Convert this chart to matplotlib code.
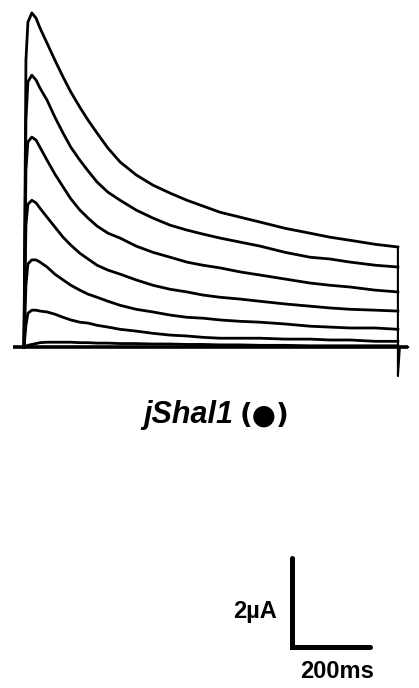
import numpy as np
import matplotlib.pyplot as plt

# sample times of the current traces (ms after step onset)
t = [0, 5, 10, 20, 31, 41, 59, 79, 100, 120, 143, 164, 187, 215, 246,
     287, 330, 374, 417, 458, 502, 553, 604, 668, 732, 783, 835, 899, 957]

# currents (uA) for each voltage step, largest first
trace1 = [0, 6.45, 7.30, 7.51, 7.39, 7.17, 6.83, 6.45, 6.07, 5.73, 5.39, 5.10, 4.81, 4.47, 4.16,
          3.87, 3.64, 3.46, 3.30, 3.17, 3.03, 2.92, 2.81, 2.67, 2.56, 2.47, 2.40, 2.31, 2.25]
trace2 = [0, 5.10, 5.96, 6.11, 6.00, 5.82, 5.55, 5.17, 4.81, 4.49, 4.20, 3.96, 3.71, 3.48, 3.30,
          3.08, 2.90, 2.74, 2.63, 2.54, 2.45, 2.36, 2.27, 2.13, 2.02, 1.98, 1.91, 1.84, 1.80]
trace3 = [0, 3.98, 4.61, 4.72, 4.65, 4.49, 4.20, 3.89, 3.60, 3.33, 3.08, 2.90, 2.72, 2.56, 2.45,
          2.27, 2.13, 2.02, 1.91, 1.84, 1.78, 1.69, 1.62, 1.53, 1.44, 1.39, 1.35, 1.28, 1.24]
trace4 = [0, 2.74, 3.21, 3.30, 3.24, 3.12, 2.92, 2.70, 2.47, 2.29, 2.11, 1.98, 1.84, 1.73, 1.64,
          1.51, 1.39, 1.30, 1.24, 1.17, 1.12, 1.08, 1.03, 0.97, 0.92, 0.88, 0.85, 0.83, 0.81]
trace5 = [0, 1.39, 1.87, 1.96, 1.96, 1.91, 1.80, 1.64, 1.51, 1.39, 1.28, 1.19, 1.12, 1.03, 0.94,
          0.85, 0.79, 0.72, 0.67, 0.65, 0.61, 0.58, 0.56, 0.52, 0.47, 0.45, 0.43, 0.43, 0.40]
trace6 = [0, 0.49, 0.76, 0.83, 0.83, 0.81, 0.79, 0.74, 0.67, 0.61, 0.56, 0.54, 0.49, 0.45, 0.40,
          0.36, 0.31, 0.27, 0.25, 0.22, 0.20, 0.20, 0.20, 0.18, 0.18, 0.16, 0.16, 0.13, 0.13]
trace7 = [0, 0.02, 0.04, 0.06, 0.08, 0.10, 0.11, 0.11, 0.11, 0.11, 0.10, 0.10, 0.09, 0.09, 0.08,
          0.08, 0.07, 0.07, 0.06, 0.06, 0.05, 0.05, 0.04, 0.04, 0.03, 0.03, 0.03, 0.03, 0.03]
traces = [trace1, trace2, trace3, trace4, trace5, trace6, trace7]

# holding baseline and tail artifact at step end
base_t = [-28, 983]
base_i = [0, 0]
tail_t = [957, 957, 962, 983]
tail_i = [2.25, -0.65, 0, 0]

# scale bar
bar_ms = 200
bar_ua = 2
bar_x0, bar_y0 = 686, -6.74

fig = plt.figure(figsize=(4.19, 6.88), dpi=100)
ax = fig.add_axes([0, 0, 1, 1])
ax.set_xlim(-61.4, 1011)
ax.set_ylim(-7.66, 7.80)
ax.axis('off')

ax.plot(base_t, base_i, color='black', lw=2.6, solid_capstyle='butt')
for tr in traces:
    ax.plot(t, tr, color='black', lw=2.0, solid_joinstyle='round')
ax.plot(tail_t, tail_i, color='black', lw=1.5)

# label under the traces
ax.text(535, -1.71, 'jShal1', fontsize=22, fontweight='bold', style='italic',
        family='Liberation Sans', ha='right', va='baseline')
ax.text(551, -1.71, '(\u25cf)', fontsize=20, fontweight='bold',
        family='DejaVu Sans', ha='left', va='baseline')

ax.plot([bar_x0, bar_x0, bar_x0 + bar_ms], [bar_y0 + bar_ua, bar_y0, bar_y0],
        color='black', lw=3.6, solid_capstyle='round', solid_joinstyle='miter')
ax.text(bar_x0 - 40, bar_y0 + bar_ua / 2 - 0.2, '2\u00b5A', fontsize=17,
        fontweight='bold', family='Liberation Sans', ha='right', va='center')
ax.text(bar_x0 + 115, bar_y0 - 0.3, '200ms', fontsize=17,
        fontweight='bold', family='Liberation Sans', ha='center', va='top')

plt.savefig('out.png', dpi=100)
